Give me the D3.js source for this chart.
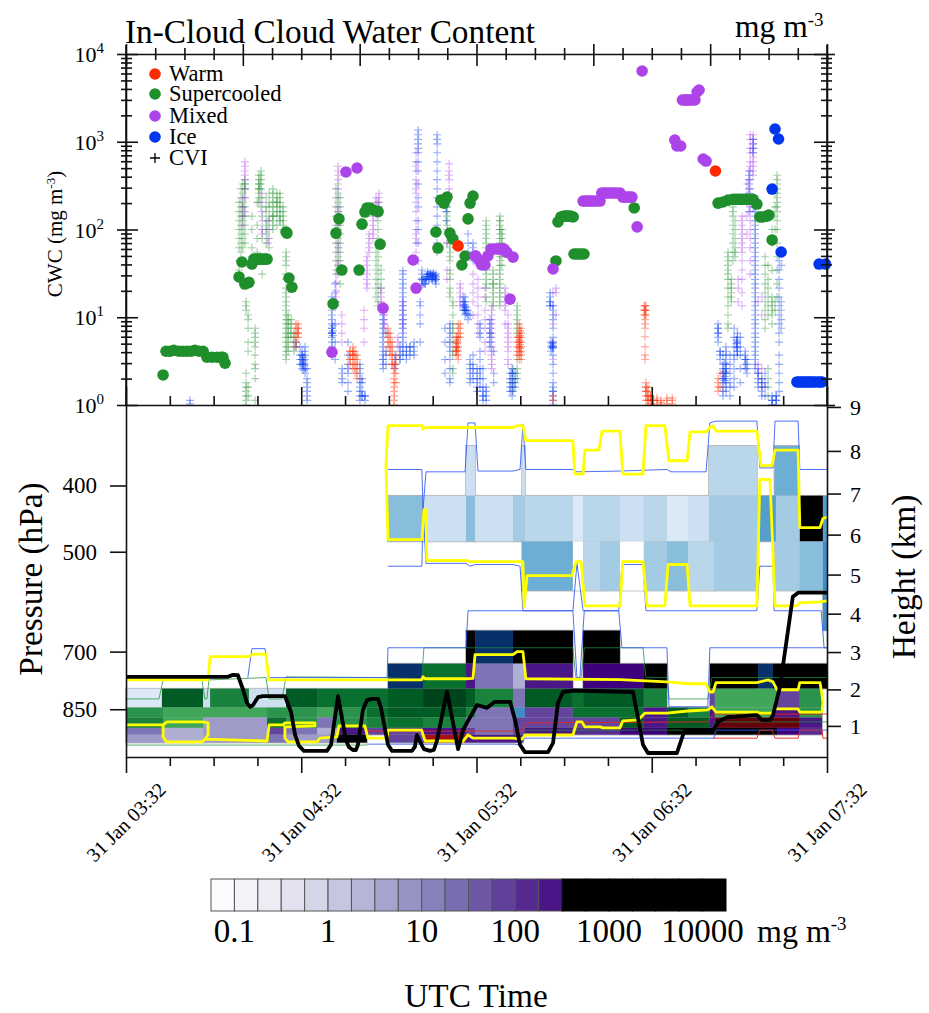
<!DOCTYPE html>
<html>
<head>
<title>In-Cloud Cloud Water Content</title>
<meta charset="utf-8">
<script src="https://cdnjs.cloudflare.com/ajax/libs/d3/7.8.5/d3.min.js"></script>
<style>
  body { margin: 0; background: white; }
  text { font-family: "Liberation Serif", serif; fill: black; }
  .axis path, .axis line { stroke: #111; stroke-width: 1.6; }
</style>
</head>
<body>
<div id="chart"></div>
<script>
// time is minutes after 31 Jan 03:32 UTC, cwc is mg m-3
var warmTime = [113.7, 201.8];
var warmCwc = [65, 464];
var superTime = [12.7, 13.7, 15.1, 16.4, 18.1, 19.5, 20.9, 22.3, 23.6, 25, 26.4, 27.7, 29.4, 31.2, 32.5, 33.2, 33.9, 38.7, 39.7, 40.7, 42.1, 43.1, 43.8, 45.2, 46.6, 48.3, 54.8, 55.1, 55.8, 56.8, 70.9, 71.9, 72.9, 73.9, 79.8, 80.8, 81.8, 82.5, 83.5, 84.6, 86.3, 87, 106.1, 106.8, 107.8, 108.9, 109.9, 110.9, 111.9, 115, 116.1, 117.1, 117.8, 118.8, 147.2, 147.9, 148.9, 150.3, 151.7, 153.1, 153.4, 155.1, 156.8, 174, 202.7, 204.4, 206.1, 207.8, 209.6, 211.3, 213, 214.7, 216, 217, 218, 219.4, 220.1, 221.2,
  44.5, 45.9, 47.4, 149.6, 151, 152.4, 154.2, 155.9, 208.7, 210.4, 212.1, 213.9];
var superCwc = [2.2, 4.1, 4.1, 4.2, 4.1, 4.1, 4.1, 4.1, 4.2, 4.1, 4.1, 3.5, 3.5, 3.5, 3.5, 3.5, 3.0, 28.8, 42.6, 23.9, 25, 40.4, 46, 46, 46, 46, 93.7, 91, 28, 22, 14.2, 91, 132, 34.5, 34.5, 115, 158, 176, 176, 167, 160, 68, 93.7, 61.5, 217, 200, 234, 91, 78, 39.4, 49.9, 132, 200, 241, 43.8, 122, 139, 142, 142, 139, 52.6, 52.6, 52.6, 176, 200, 206, 216, 221, 221, 221, 221, 221, 195, 139, 139, 142, 146, 76,
  46, 46, 46, 141, 142, 141, 52.6, 52.6, 221, 221, 221, 221];
var mixedTime = [70.5, 75.3, 79.1, 88, 98.3, 99.3, 119.5, 119.8, 120.8, 121.8, 122.9, 123.9, 125, 127, 128.4, 129.4, 130.4, 131.5, 132.5, 146.2, 176.7, 156.5, 158.2, 159.9, 162.3, 162.9, 164.6, 166.3, 168, 169.1, 170.1, 171.8, 173.2, 175, 187.9, 188.6, 189.9, 191.1, 192.1, 193.1, 194.8, 195.5, 196.2, 197.6, 198.6,
  157.3, 159, 161, 163.7, 165.4, 167.2, 171, 172.5, 190.5, 191.6, 192.6, 194, 126, 127.7, 128.9];
var mixedCwc = [4, 452, 502, 12.7, 44.9, 21.5, 49.9, 49.9, 44.9, 39.4, 39.4, 49.9, 60, 60, 60, 60, 55, 16.1, 48.5, 35.5, 6400, 211, 211, 211, 211, 261, 261, 261, 261, 261, 234, 234, 234, 107, 1047, 895, 895, 2990, 2990, 2990, 2990, 3690, 3890, 636, 603,
  211, 211, 211, 261, 261, 261, 234, 234, 2990, 2990, 2990, 2990, 60, 60, 60];
var iceTime = [222.2, 223.4, 221.2, 224.3, 237.3, 239.5, 229.7, 231.1, 232.5, 233.8, 235.2, 236.9, 238.3, 230.4, 231.8, 233.2, 234.5, 235.9, 237.6];
var iceCwc = [1397, 1075, 289, 55.4, 40.4, 40.4, 1.83, 1.83, 1.83, 1.83, 1.83, 1.83, 1.83, 1.83, 1.83, 1.83, 1.83, 1.83, 1.83];

// CVI crosses, each strand is [time, [cwc values]]
var cviSuper = [
  [38.7, [27, 31, 34.5, 44, 62, 79, 100, 126, 160, 204]],
  [39.4, [55, 70, 89, 112, 142, 181, 230, 290]],
  [40, [44, 62, 79, 100, 126, 142, 160, 181, 204, 259, 330]],
  [40.7, [70, 89, 112, 142, 181, 230, 290, 330, 370, 330, 290]],
  [41.1, [15, 13.5, 12, 1.13, 1.27, 1.43, 1.6, 1.8, 1, 2.3]],
  [41.8, [10.6, 9.4, 7.5, 5.2, 4.1, 1.27, 1.6]],
  [43.1, [49, 62, 100, 142]],
  [44.2, [7.5, 6.6, 5.9, 5.2, 4.6, 3.7, 2.9, 2.6, 2, 1.13]],
  [44.9, [55, 79, 112, 204]],
  [45.5, [290, 330, 370, 415, 330, 290, 259, 230, 204]],
  [46.2, [370, 415, 465, 330, 290, 230, 181]],
  [46.6, [44, 31, 79, 142, 100]],
  [48, [49, 70, 89, 100, 112, 126, 181, 230, 160]],
  [49, [62, 79, 100, 126, 204, 142, 181, 259]],
  [50.3, [112, 126, 142, 160, 181, 204, 230, 290, 259, 142, 100]],
  [51.7, [112, 142, 160, 181, 204, 230, 259, 204]],
  [52.7, [181, 160, 142, 126, 204, 230, 259, 126]],
  [53.8, [100, 112, 126, 142, 181, 160]],
  [54.8, [55, 49, 44, 39, 31, 27, 21.5, 19, 17, 15, 13.5, 12, 10.6, 9.4, 8.4, 7.5, 6.6, 5.9, 5.2, 4.6, 4.1, 3.7, 3.3]],
  [55.5, [10.6, 9.4, 8.4, 7.5, 6.6, 5.9, 5.2, 4.6, 4.1]],
  [56.5, [9.4, 8.4, 7.5, 6.6, 5.9]],
  [57.5, [6.6, 5.9, 5.2, 4.6, 4.1]],
  [71.9, [34.5, 44, 55, 70, 89, 112, 142, 181, 230, 290]],
  [72.6, [31, 39, 49, 62, 79, 100, 126, 160, 204, 259, 330]],
  [73.3, [24, 34.5, 44, 55, 70, 89, 112, 142, 181, 230]],
  [85.6, [17, 21.5, 27, 34.5, 44, 55]],
  [86.3, [13.5, 15, 19, 24, 31, 39, 49, 62, 79, 100, 126, 160, 181, 204]],
  [87.3, [21.5, 27, 34.5]],
  [109.9, [112, 126, 142, 160, 181, 204, 230, 70, 89]],
  [110.9, [44, 49, 55, 62, 70, 79, 89, 31, 34.5, 27, 21.5, 19, 17]],
  [111.9, [15, 13.5, 10.6, 7.5, 5.2, 3.7, 2.6, 2.3, 4.1, 6.6, 8.4]],
  [123.3, [126, 112, 100, 89, 79, 70, 62, 55, 49, 44, 39, 34.5, 31, 27, 24, 21.5, 17, 15]],
  [125.7, [31, 27, 24, 21.5, 19, 17, 15, 13.5, 34.5, 24]],
  [128, [142, 126, 112, 100, 89, 79, 70, 62, 55, 49, 44, 39, 34.5, 31, 27, 24, 21.5, 19, 17, 15, 13.5, 126, 100]],
  [128.7, [100, 89, 79, 70, 62, 55, 49, 39]],
  [132.5, [2.3, 2, 1.8, 1.6, 1.43, 2.6]],
  [133.9, [13.5, 12, 10.6, 9.4, 8.4, 7.5, 6.6, 3.3, 2.6, 2.3, 2]],
  [206.1, [55, 44, 34.5, 27, 21.5, 17, 13.5, 10.6, 8.4, 7.5, 31, 39, 49]],
  [207.2, [24, 27, 21.5, 19, 17, 15]],
  [207.8, [181, 160, 142, 112, 89, 70, 55, 44]],
  [208.5, [126, 100, 79, 62, 55, 49]],
  [218.8, [49, 39, 31, 24, 19, 15, 12, 9.4, 7.5]],
  [219.8, [39, 27, 21.5, 17, 13.5, 10.6, 2.6, 2, 1.6, 1.27]],
  [221.2, [17, 15, 13.5, 12, 10.6, 8.4, 34, 70, 100]],
  [222.2, [100, 142, 181, 259, 12, 15]],
  [222.9, [415, 370, 330, 290, 259, 230, 204, 181, 160, 126, 100, 70, 49, 34.5, 24, 17]]
];
var cviMixed = [
  [40, [230, 181, 142, 112]],
  [40.7, [590, 525, 465, 415, 370, 290, 230, 160]],
  [46.6, [259, 204, 160, 126, 100, 89]],
  [48.6, [126, 100, 79, 70]],
  [71.9, [20, 25, 31, 17, 13.5, 15]],
  [72.6, [525, 465, 415, 370, 290, 230, 181, 160, 142, 112, 89, 70, 62, 55, 44, 39, 34.5]],
  [73.9, [10.6, 8.4, 6.6, 5.2]],
  [81.5, [9.4, 12, 7.5, 5.2]],
  [82.5, [49, 44, 39, 34.5, 31, 27, 24, 21.5]],
  [83.2, [89, 79, 70, 62, 55]],
  [84.6, [142, 126, 112, 100, 89, 79]],
  [85.6, [230, 204, 181, 160, 142]],
  [86.6, [259, 230, 204, 181]],
  [87.3, [21.5, 19, 17, 15, 13.5, 12]],
  [88.4, [12, 10.6, 9.4, 8.4, 7.5]],
  [93.1, [4.6, 5.9, 5.2]],
  [94.8, [15, 13.5, 10.6, 12, 9.4, 8.4, 7.5]],
  [99.3, [750, 590, 525, 465, 370, 330, 290, 259, 204, 160, 126, 100, 89, 79, 70, 55]],
  [109.9, [100, 70, 34.5, 27]],
  [110.6, [560, 465, 415, 370, 290, 259]],
  [114.4, [24, 19, 17, 15, 21.5, 13.5]],
  [118.8, [31, 24, 19, 15, 10.6]],
  [120.5, [39, 27, 21.5, 17, 13.5, 10.6, 8.4, 6.6]],
  [122.9, [21.5, 17, 12, 9.4, 7.5, 5.2, 4.1]],
  [125.2, [13.5, 12, 10.6, 9.4, 8.4, 7.5, 6.6, 5.9, 5.2, 4.6, 4.1, 3.7, 3.3, 2.9, 2.6]],
  [129.8, [21.5, 19, 17, 15, 13.5, 12, 8.4]],
  [130.8, [8.4, 7.5, 6.6, 5.9, 5.2, 4.6, 4.1, 3.3, 2.9, 10.6]],
  [146.2, [19, 13.5, 8.4, 5.2, 3.3]],
  [147.2, [21.5, 19, 10.6]],
  [209.6, [27, 21.5, 15]],
  [210.9, [142, 126, 112, 100, 89, 79, 70, 62, 55, 44, 34.5, 27, 19, 13.5]],
  [212.6, [250, 330, 200, 142, 89]],
  [213.7, [1200, 1065, 840, 750, 590, 525, 465, 370, 290, 230, 181, 160, 126, 100, 79, 62, 44, 31]],
  [214.7, [1200, 1065, 945, 840, 750, 665, 590, 525, 465, 415]],
  [216.4, [15, 2.6, 2.9, 2.3]],
  [217.7, [17, 10.6, 2.6, 2, 1.6]]
];
var cviIce = [
  [21.9, [1.13, 1.03]],
  [58.2, [4.6, 5.2]],
  [59.6, [4.6, 3.7, 3.3, 2.9]],
  [60.3, [3.7, 3.3, 2.9, 2.6, 4.1, 3.7, 3.3, 2.9]],
  [60.8, [3.5, 3, 2.8, 2.5, 3.2]],
  [61.3, [4.6, 4.1, 3.7, 3.3, 2.9, 2.6, 2.3]],
  [62, [2.6, 2, 1.8, 1.6, 1.43, 1.27, 1.13]],
  [70.5, [17, 15, 13.5, 12, 10.6, 9.4, 8.4, 7.5, 6.6, 5.9, 5.2, 4.6, 4.1, 3.7, 7.5, 6.6, 6.6]],
  [70.8, [8, 7, 6.2]],
  [71.6, [24, 19, 15, 8.4, 5.2, 3.3]],
  [74, [2.3, 2.6, 2, 1.8]],
  [76, [5.2, 3.7, 2.9, 2.6, 2.3, 1.8, 1.43]],
  [80.1, [2.9, 2.6, 2.3, 2, 1.8, 1.6, 1.43, 1.27, 1.13]],
  [80.8, [2, 1.8, 1.43, 1.27, 1.27]],
  [81.8, [1.13, 1.27, 1.27]],
  [88, [12, 10.6, 9.4, 8.4, 7.5, 6.6, 5.9, 5.2, 4.6, 4.1, 3.7, 3.3, 3.3, 2.9, 2.6]],
  [89, [6.6, 4.1, 2.9, 3.7]],
  [92.1, [2.9, 2.6, 3.3, 3.7]],
  [93.8, [4.6, 4.1, 3.7, 3.3, 3.3]],
  [94.8, [34, 31, 27, 24, 21.5, 19, 17, 15, 13.5, 12, 10.6, 9.4, 8.4, 7.5, 6.6, 5.9, 5.2, 4.6, 4.1, 3.7]],
  [96, [4.6, 4.1, 3.7, 3.3]],
  [97.2, [4.6, 4.1, 3.7, 4.6]],
  [98.6, [5.2, 4.6, 4.1, 3.7]],
  [100, [1360, 1200, 1065, 945, 840, 750, 590, 465, 330, 230, 181, 126, 100, 70, 44]],
  [100.7, [15, 13.5, 10.6, 8.4, 5.2]],
  [101.3, [23, 27, 31, 34.5, 27]],
  [101.7, [24, 26, 28]],
  [102.4, [24, 27, 27, 24]],
  [102.9, [27, 29]],
  [103.2, [29, 31, 33]],
  [103.7, [27, 31, 31, 27]],
  [104.2, [30, 32, 28]],
  [104.8, [27, 31, 31, 29, 27]],
  [105.3, [30, 28, 32]],
  [105.8, [26, 28, 30]],
  [106.1, [29, 27, 31, 27, 24]],
  [106.5, [1200, 1065, 945, 750, 590, 465, 370, 290, 230, 181, 142, 112, 89, 70, 55]],
  [109.2, [7.5, 5.2, 3.3, 2.3]],
  [109.6, [230, 204, 181, 160, 126]],
  [110.9, [8.4, 7.5, 6.6, 5.9, 5.2, 4.6, 4.1, 3.3, 2.6, 2, 1.8]],
  [115.4, [12, 13.5, 15, 17]],
  [115.8, [14, 13, 12, 15]],
  [116.1, [17, 15, 13.5, 12, 12, 10.6]],
  [116.5, [13, 12, 11]],
  [117.1, [89, 70, 55, 10.6, 12, 9.4]],
  [117.8, [10.6, 3.3, 2.9, 2.6, 2.3, 2, 1.8]],
  [118.8, [70, 62, 55, 49, 44, 3.7, 2.9, 2.3, 2, 2.6]],
  [120.2, [1.6, 1.43, 1.8, 2, 2.3, 2.6]],
  [121.2, [8.4, 7.5, 6.6, 5.9, 4.1, 3.3, 2.6, 2.3, 2, 1.6]],
  [122.2, [2.6, 2, 1.6, 1.43, 1.27, 1.27, 1.13]],
  [123.3, [1.6, 1.43, 1.27, 1.13]],
  [124.6, [9.4, 8.4, 7.5, 6.6, 6.6, 5.9, 5.2, 4.6]],
  [125.9, [4.1, 2.3, 1.8]],
  [131.5, [2.3, 2, 1.8, 1.6, 1.43]],
  [132.2, [2.6, 2.3, 2.3, 2, 1.8, 1.6, 1.43, 1.27]],
  [133.2, [2.3, 2, 1.8, 1.6]],
  [145.2, [19, 17, 15, 15, 13.5, 13.5]],
  [145.5, [5.2, 4.6, 4.1]],
  [146, [5, 4.8, 4.4]],
  [146.2, [13.5, 12, 10.6, 9.4, 7.5, 5.9, 5.2, 4.6, 4.6, 4.6, 3.7, 2.9, 2.3, 1.8, 1.6, 1.43, 1.43, 1.27, 1.13, 1]],
  [202.7, [8.4, 7.5, 6.6, 5.9, 7.5, 6.6, 5.2]],
  [203.4, [4.1, 3.7, 4.1, 3.3]],
  [204.4, [3.7, 2.9, 2.6, 2.3, 2, 1.8, 1.6, 1.43, 1.27, 2, 2.3]],
  [205, [3, 2.4, 2.1, 1.9]],
  [205.4, [4.6, 4.1, 3.7, 3.3, 2.9, 2.6, 2.3, 2, 1.8, 1.6, 1.43, 2.6, 2.3]],
  [206.8, [3.7, 2.9, 2.3, 1.8, 1.6, 1.27]],
  [208.2, [7.5, 5.9, 4.6, 3.7, 3.3, 2.6, 2, 1.6]],
  [209, [5.5, 5, 4.5]],
  [209.3, [6.6, 5.9, 5.2, 4.6, 4.1, 4.1, 3.7, 5.2]],
  [210.3, [5.9, 4.6, 3.7, 2.6, 1.8]],
  [212, [4.1, 3.7, 3.3, 3.3, 2.9, 2.6]],
  [212.6, [3.3, 2.9, 2.6, 2.3]],
  [213.3, [465, 415, 370, 330, 290, 259, 230, 204, 160]],
  [214.7, [1065, 945, 840, 750, 204, 181]],
  [215.4, [181, 160, 142, 126, 112, 100, 89, 79, 70, 62, 55, 49, 44, 39, 34.5, 31, 27, 24, 21.5, 19, 17, 15, 13.5, 12, 10.6, 9.4, 8.4, 7.5, 6.6, 5.9, 5.2, 4.6, 4.1, 3.7, 3.3, 2.9, 2.6]],
  [216.4, [2.3, 2, 1.8, 1.6, 2.3]],
  [217.7, [1.8, 1.6, 1.43, 1.27, 2]],
  [218.8, [2.3, 1.6, 1.27, 1.8]],
  [221.2, [1.27, 1.13, 1, 1.13, 1]],
  [222.6, [1.27, 1.13, 1, 1.27, 1.13]],
  [223.6, [44, 34.5, 27, 21.5, 17, 13.5, 10.6, 8.4, 6.6, 5.2, 3.7, 2.9, 2.3, 1.8, 1.43]],
  [224.3, [55, 39, 15, 12, 9.4, 7.5]]
];
var cviWarm = [
  [58.2, [8.4, 7.5, 6.6, 5.9, 5.2, 4.6]],
  [58.9, [8.4, 7.5, 6.6, 5.9, 7.5, 6.6]],
  [76.7, [4.1, 3.7, 3.3, 2.9, 4.1, 3.3]],
  [77.7, [4.6, 4.1, 3.7, 3.3, 2.9, 2.6, 4.1, 3.7]],
  [78.4, [4.1, 3.7, 3.3, 2.9, 2.6, 2.3]],
  [79.1, [3.7, 3.3, 2.9, 2.6, 2.3, 2]],
  [89.7, [7.5, 6.6, 5.9, 5.2, 4.6]],
  [90.4, [6.6, 5.9, 5.2, 4.6, 4.1, 3.7]],
  [91.1, [5.2, 4.6, 4.1, 3.7, 3.3, 2.9, 2.9]],
  [91.8, [2.9, 2.6, 2.3, 2, 1.8, 1.6, 1.43, 1.27, 1.13, 1]],
  [92.4, [3.7, 3.3, 2.9, 2.3, 1.8]],
  [113, [5.9, 5.2, 4.6, 4.1, 4.1, 3.7, 4.6]],
  [113.3, [6, 5.5, 5, 4.5, 4.2]],
  [113.7, [8.4, 7.5, 6.6, 5.9, 5.2, 4.6, 4.1, 3.7, 3.3]],
  [114.4, [8.4, 7.5, 6.6, 5.9]],
  [133.9, [5.9, 5.2, 4.6, 4.1, 3.7]],
  [134.6, [8.4, 7.5, 6.6, 5.9, 5.2, 4.6, 4.1, 3.7, 3.3, 4.6, 5.2, 5.9]],
  [134.9, [7, 6.2, 5.5, 4.9, 4.4, 4]],
  [135.3, [7.5, 6.6, 5.9, 5.2, 4.6, 4.1, 3.7, 3.3]],
  [146.2, [1.13, 1.27]],
  [177.4, [13.5, 12, 10.6]],
  [177.7, [13.5, 12, 10.6, 12, 9.4, 8.4, 7.5, 6, 4.6, 3.7, 3.3]],
  [178, [13.5, 12, 10.6, 1.8, 1.6, 1.43, 1.6, 1.27, 1.13, 1.43]],
  [178.7, [1.6, 1.43, 1.27, 1.13, 1, 1.27, 1.13]],
  [179.5, [1.27, 1.13, 1.27, 1.03]],
  [180.5, [1.13, 1.13, 1, 1.13]],
  [181.8, [1.2, 1.13, 1.03]],
  [183.2, [1.13, 1, 1.07]],
  [185.2, [1.2, 1.13, 1.03]],
  [187, [1.2, 1.13, 1.03]],
  [202.7, [2, 1.8, 1.6, 1.43]],
  [203.4, [2.3, 1.6]]
];

// pressure bins of the curtain plot, hPa
var pressureEdges = [350, 414, 483, 570, 652, 729, 793, 845, 874, 905, 926, 951];
// each cell is [start, end, phase, cwc]; 0.01 is a cloudy cell below the colour range
var row0 = [[116.4, 119.5, "ice", 0.42], [135.6, 136.6, "ice", 0.42], [199.6, 216, "ice", 0.75], [222, 230.4, "ice", 4.2]];
var row1 = [[89.7, 101.7, "ice", 2.4], [101.7, 116.4, "ice", 0.42], [116.4, 119.5, "ice", 2.4], [119.5, 132.5, "ice", 0.42], [132.5, 136.6, "ice", 1.3], [136.6, 153, "ice", 0.75], [153, 156.5, "ice", 0.24], [156.5, 169.1, "ice", 0.75], [169.1, 177.3, "ice", 0.42], [177.3, 185.2, "ice", 0.75], [185.2, 192.4, "ice", 0.24], [192.4, 199.6, "ice", 0.42], [199.6, 217, "ice", 1.3], [217, 222.5, "ice", 7.5], [222.5, 230.7, "ice", 1.3], [230.7, 238.6, "ice", 500], [238.6, 240, "ice", 7.5]];
var row2 = [[135.6, 153, "ice", 4.2], [153, 156.5, "ice", 0.01], [156.5, 162.3, "ice", 0.75], [162.3, 169.1, "ice", 1.3], [169.1, 177.3, "ice", 0.01], [177.3, 185.2, "ice", 1.3], [185.2, 192.4, "ice", 2.4], [192.4, 201.3, "ice", 0.75], [201.3, 216, "ice", 1.3], [222.2, 230.7, "ice", 1.3], [230.7, 238.6, "ice", 2.4], [238.6, 240, "ice", 13]];
var row3 = [[238.6, 240, "ice", 13]];
var row4 = [[116.4, 119.5, "ice", 500], [119.5, 132.5, "ice", 237], [132.5, 153, "ice", 500], [156.5, 169.1, "ice", 500]];
var row5 = [[89.7, 101.7, "ice", 237], [101.7, 116.4, "sc", 75], [116.4, 119.5, "mix", 133], [119.5, 132.5, "mix", 13], [132.5, 136.6, "mix", 2.4], [136.6, 153, "mix", 133], [156.5, 177.3, "mix", 237], [177.3, 185.2, "mix", 500], [199.9, 216.4, "mix", 500], [216.4, 221.5, "ice", 237], [221.5, 240, "mix", 500]];
var row6 = [[0, 12.3, "ice", 0.24], [12.3, 26.4, "sc", 133], [26.4, 28.8, "ice", 0.42], [28.8, 42.1, "sc", 42], [42.1, 48.3, "ice", 0.42], [48.3, 54.8, "ice", 0.42], [54.8, 65.4, "sc", 133], [65.4, 89.7, "sc", 75], [89.7, 101.7, "sc", 133], [101.7, 116.4, "sc", 237], [116.4, 119.5, "sc", 133], [119.5, 132.5, "sc", 42], [132.5, 136.6, "mix", 13], [136.6, 153, "sc", 133], [153, 156.5, "sc", 75], [156.5, 177.3, "sc", 133], [177.3, 185.2, "sc", 42], [199.9, 201.6, "mix", 42], [201.6, 222.9, "sc", 13], [222.9, 230.7, "mix", 42], [230.7, 238.3, "sc", 24]];
var row7 = [[0, 12.7, "sc", 24], [12.7, 42.1, "sc", 13], [42.1, 48.3, "sc", 13], [48.3, 65.4, "sc", 24], [65.4, 70.9, "sc", 13], [70.9, 82.5, "sc", 24], [82.5, 89.7, "sc", 75], [89.7, 116.4, "sc", 133], [116.4, 119.5, "sc", 42], [119.5, 132.5, "mix", 13], [132.5, 136.6, "ice", 13], [136.6, 153, "mix", 42], [153, 177.3, "sc", 75], [177.3, 185.2, "mix", 133], [185.2, 192.4, "sc", 133], [192.4, 199.9, "sc", 42], [199.9, 201.6, "mix", 133], [201.6, 221.5, "sc", 13], [221.5, 230.7, "mix", 133], [230.7, 238.3, "sc", 24]];
var row8 = [[0, 12.7, "sc", 42], [12.7, 26.4, "sc", 13], [26.4, 48.3, "mix", 4.2], [48.3, 54.8, "sc", 75], [54.8, 65.4, "sc", 24], [65.4, 70.9, "mix", 13], [70.9, 82.5, "sc", 24], [82.5, 89.7, "sc", 42], [89.7, 101.7, "sc", 75], [101.7, 116.4, "sc", 42], [116.4, 132.5, "mix", 13], [132.5, 153, "mix", 42], [153, 169.1, "mix", 42], [169.1, 177.3, "sc", 133], [177.3, 185.2, "mix", 133], [185.2, 199.9, "sc", 133], [199.9, 201.6, "mix", 133], [201.6, 230.7, "warm", 237], [230.7, 238.3, "mix", 133]];
var row9 = [[0, 12.7, "mix", 13], [12.7, 26.4, "mix", 2.4], [26.4, 48.3, "mix", 4.2], [48.3, 54.8, "mix", 42], [54.8, 65.4, "mix", 13], [65.4, 72.2, "mix", 2.4], [72.2, 82.5, "mix", 133], [82.5, 89.7, "mix", 42], [89.7, 101.7, "mix", 42], [101.7, 116.4, "mix", 133], [116.4, 119.5, "mix", 42], [119.5, 132.5, "mix", 13], [132.5, 136.6, "mix", 42], [136.6, 153, "mix", 133], [153, 169.1, "mix", 75], [169.1, 185.2, "mix", 237], [185.2, 201.6, "mix", 500], [201.6, 222.9, "mix", 500], [222.9, 230.7, "mix", 237], [230.7, 238.3, "mix", 75]];
var row10 = [[0, 12.7, "mix", 4.2], [12.7, 26.4, "mix", 2.4], [26.4, 48.3, "mix", 4.2], [48.3, 54.8, "mix", 13], [54.8, 65.4, "mix", 4.2], [65.4, 72.2, "mix", 4.2], [72.2, 82.5, "mix", 500], [89.7, 101.7, "mix", 42], [101.7, 116.4, "warm", 75], [116.4, 136, "mix", 133]];
var rows = [row0, row1, row2, row3, row4, row5, row6, row7, row8, row9, row10];

// contour lines of the curtain plot, [time, hPa]
var blueUpperTop = [[89.7, 379], [101.3, 379], [101.7, 434], [102.7, 382], [116.1, 382], [117.1, 324], [119.5, 324], [120.5, 381], [132.5, 381], [134.9, 379], [135.9, 325], [136.9, 379], [153, 379], [154.4, 382], [169, 381], [185.2, 379], [186.6, 382], [198.6, 382], [199.9, 324], [202, 322], [216, 322], [217, 377], [221.5, 377], [222.2, 322], [230.1, 322], [230.7, 379], [240, 379]];
var blueUpperBase = [[89.7, 525], [101.3, 525], [101.7, 434], [102.7, 520], [116.4, 520], [117.8, 525], [119.5, 522], [132.5, 522], [134.9, 525], [135.9, 610], [153, 610], [154.4, 520], [156.5, 610], [168.7, 610], [169.8, 522], [177, 522], [178, 610], [216, 610], [217, 525], [221.5, 525], [221.9, 610], [238, 610], [239, 691], [240, 691]];
var blueLower = [[41.7, 764], [43.1, 693], [47.6, 693], [49, 764], [89.4, 764], [89.7, 691], [116.4, 691], [117.1, 610], [153, 610], [154.4, 764], [155.4, 764], [156.9, 610], [168.7, 610], [169.8, 691], [185.2, 691], [185.9, 843], [199.2, 843], [199.9, 691], [240, 691]];
var blueBase = [[82.5, 956], [133, 956], [134.9, 959], [136.6, 937], [201.3, 937], [202, 912], [240, 912]];
var greenTop = [[0, 821], [11.3, 821], [12.7, 770], [26, 770], [27, 821], [27.7, 821], [28.4, 770], [47.9, 764], [49, 821], [53.4, 821], [54.8, 762], [89.7, 764], [101.2, 770], [102, 691], [153, 691], [154, 764], [155.8, 764], [156.9, 691], [177, 691], [178, 764], [185.2, 764], [185.9, 821], [199.2, 821], [200.6, 764], [240, 764]];
var greenBase = [[0, 959], [82.5, 959]];
var greenMid = [[136.6, 912], [199.9, 912], [202, 887], [240, 887]];
var redTop = [[82.5, 915], [135.6, 915], [136.9, 890], [199.2, 887], [201, 864], [240, 864]];
var redBase = [[201, 937], [216, 937], [217, 912], [221.2, 912], [222.2, 937], [230.1, 937], [230.7, 912], [238.3, 912], [238.6, 937], [240, 937]];
var yellowUpperTop = [[89.7, 480], [89, 374], [89.7, 327], [101.3, 327], [101.7, 331], [102.4, 329], [117.8, 329], [132.5, 329], [133.9, 327], [135.9, 327], [136.9, 344], [153, 344], [153.7, 385], [156.5, 385], [157.1, 355], [161.9, 355], [163, 333], [169.1, 333], [170.1, 385], [177, 385], [178, 327], [184.5, 327], [185.9, 368], [192.1, 368], [193.1, 334], [198.6, 334], [199.9, 329], [201, 327], [202, 333], [216, 333], [217.4, 374], [221.2, 374], [222.2, 355], [230.1, 355], [230.7, 461], [237.6, 461], [238.6, 447], [240, 445]];
var yellowUpperBase = [[89.7, 480], [101.3, 480], [102, 434], [102.7, 434], [103, 515], [116.4, 515], [117.8, 517], [135.9, 517], [136.3, 602], [137.3, 542], [152.7, 542], [154.1, 517], [155.8, 517], [157.1, 600], [169.1, 600], [170.1, 517], [177, 517], [178.4, 600], [184.5, 600], [185.6, 522], [192.1, 522], [193.1, 600], [216, 600], [217, 392], [220.5, 392], [222.2, 600], [229.7, 600], [230.7, 594], [237.6, 592], [240, 590]];
var yellowLowerTop = [[0, 770], [28.1, 770], [28.8, 712], [42.1, 712], [43.5, 706], [47.9, 706], [48.9, 770], [101.2, 770], [101.7, 762], [102.4, 767], [116.4, 767], [118.8, 766], [119.5, 707], [132.5, 707], [133.9, 700], [135.9, 700], [136.9, 767], [169.1, 769], [185.2, 775], [193.1, 780], [198.6, 780], [199.9, 802], [201, 802], [202, 777], [216, 777], [219.8, 770], [221.5, 775], [222.9, 796], [230.1, 796], [230.7, 777], [237.6, 777], [238.3, 810], [238.6, 832], [238.3, 858]];
var yellowLowerBase = [[0, 896], [12.7, 896], [12.7, 933], [14, 949], [26, 949], [27, 940], [48.3, 946], [49, 896], [53.7, 896], [54.4, 890], [64.7, 890], [64.7, 899], [54.4, 902], [54.4, 937], [55.5, 949], [65.4, 949], [66.4, 937], [72.2, 933], [72.9, 899], [81.8, 899], [82.8, 937], [89.4, 937], [89.7, 912], [101.2, 912], [102.4, 946], [115.4, 946], [117.1, 927], [118.8, 937], [132.5, 937], [135.6, 940], [136.6, 927], [153, 927], [154.4, 887], [156.1, 887], [157.1, 902], [162.3, 902], [163.3, 905], [169.1, 905], [170.1, 884], [175.3, 881], [177.7, 861], [185.2, 861], [192.4, 855], [199.2, 852], [200.6, 843], [202, 858], [216, 858], [217, 861], [221.2, 861], [222.2, 849], [230.1, 849], [230.7, 858], [238.3, 858]];
var yellowLoop = [[12.7, 896], [14, 887], [26.4, 887], [28.1, 890], [28.1, 927], [27, 940]];
var flightPath = [[0, 762], [34.9, 762], [36.6, 757], [38.3, 758], [40.1, 796], [41.4, 832], [42.5, 843], [43.5, 838], [45.2, 816], [46.9, 813], [54.4, 813], [56.5, 858], [57.9, 927], [59.2, 961], [60.9, 978], [68.8, 978], [70.2, 958], [72.6, 813], [75.3, 943], [76.3, 965], [77.7, 975], [78.7, 975], [79.4, 959], [81.1, 852], [82.5, 824], [84.2, 821], [86.3, 821], [87.3, 846], [89.7, 958], [91.1, 978], [97.9, 978], [98.9, 965], [99.6, 927], [100.7, 949], [102, 972], [104.1, 978], [105.4, 975], [106.5, 943], [109.9, 801], [113.7, 972], [115.4, 912], [116.7, 890], [120.2, 838], [123.6, 846], [126.3, 829], [131.5, 829], [133.2, 881], [134.9, 958], [136.6, 982], [144.5, 982], [146.2, 952], [147.9, 832], [149.6, 802], [153, 798], [173.6, 802], [177, 958], [178.7, 985], [188.6, 985], [190.7, 927], [191.4, 912], [201, 912], [202.7, 887], [205.8, 873], [216, 867], [217.7, 881], [220.5, 881], [221.5, 867], [223.9, 788], [228.3, 582], [230.1, 574], [240, 574]];

var timeTicks = [0, 60, 120, 180, 240];
var timeLabels = ["31 Jan 03:32", "31 Jan 04:32", "31 Jan 05:32", "31 Jan 06:32", "31 Jan 07:32"];
var pressureTicks = [400, 500, 700, 850];
var heightTicks = [1, 2, 3, 4, 5, 6, 7, 8, 9];
var heightPressure = [899, 795, 701, 616, 540, 472, 411, 356, 307];
var barLabels = [0.1, 1, 10, 100, 1000, 10000];
var legendNames = ["Warm", "Supercooled", "Mixed", "Ice"];

var phaseColors = {warm: "#ff2a00", sc: "#1f8f2b", mix: "#ad44ea", ice: "#0037ee"};
var ramps = {warm: d3.interpolateReds, sc: d3.interpolateGreens, mix: d3.interpolatePurples, ice: d3.interpolateBlues};

var svg = d3.select("#chart").append("svg")
  .attr("width", 929)
  .attr("height", 1013);

var x = d3.scaleLinear().domain([0, 240]).range([126, 827]);
var yCwc = d3.scaleLog().domain([1, 10000]).range([405, 54]);
var yP = d3.scaleLog().domain([1000, 305]).range([757.5, 405]);
var barX = d3.scaleLog().domain([Math.pow(10, -1.25), Math.pow(10, 4.25)]).range([211, 726]);

function cellColor(phase, v) {
  var idx = Math.floor((Math.log10(v) + 1.25) * 4);
  if (idx < 0) return "white";
  if (idx >= 15) return "black";
  return ramps[phase](idx / 14);
}

// curtain cells, the grey first pass only shows where a cell has no neighbour
var cells = [];
rows.forEach(function(row, i) {
  row.forEach(function(c) {
    cells.push({t0: c[0], t1: c[1], phase: c[2], v: c[3], p0: pressureEdges[i], p1: pressureEdges[i + 1]});
  });
});
var curtain = svg.append("g");
["halo", "fill"].forEach(function(pass) {
  curtain.append("g").selectAll("rect")
    .data(cells)
    .enter()
    .append("rect")
      .attr("x", d => x(d.t0))
      .attr("y", d => yP(d.p0))
      .attr("width", d => x(d.t1) - x(d.t0))
      .attr("height", d => yP(d.p1) - yP(d.p0))
      .attr("fill", d => cellColor(d.phase, d.v))
      .attr("stroke", pass == "halo" ? "#b5b5b5" : "none")
      .attr("stroke-width", 1.6);
});

var line = d3.line().x(d => x(d[0])).y(d => yP(d[1]));
function contour(data, color, width, opacity) {
  svg.append("path")
    .datum(data)
    .attr("d", line)
    .attr("fill", "none")
    .attr("stroke", color)
    .attr("stroke-width", width)
    .attr("stroke-opacity", opacity)
    .attr("stroke-linejoin", "round");
}
contour(greenTop, "#1f8f3c", 1, 0.75);
contour(greenBase, "#1f8f3c", 1, 0.75);
contour(greenMid, "#1f8f3c", 1, 0.75);
contour(blueUpperTop, "#2f58f0", 1, 0.85);
contour(blueUpperBase, "#2f58f0", 1, 0.85);
contour(blueLower, "#2f58f0", 1, 0.85);
contour(blueBase, "#2f58f0", 1, 0.85);
contour(redTop, "#e8261c", 1, 0.9);
contour(redBase, "#e8261c", 1, 0.9);
contour(yellowUpperTop, "#ffff00", 2.8, 1);
contour(yellowUpperBase, "#ffff00", 2.8, 1);
contour(yellowLowerTop, "#ffff00", 2.8, 1);
contour(yellowLowerBase, "#ffff00", 2.8, 1);
contour(yellowLoop, "#ffff00", 2.8, 1);
contour(flightPath, "black", 3.8, 1);

// crosses
svg.append("clipPath").attr("id", "topClip").append("rect")
  .attr("x", 126).attr("y", 54).attr("width", 701).attr("height", 351);
var crossLayer = svg.append("g").attr("clip-path", "url(#topClip)");
function crosses(strands, color) {
  var pts = [];
  strands.forEach(function(s) {
    s[1].forEach(function(v) { pts.push([s[0], v]); });
  });
  crossLayer.append("g").selectAll("path")
    .data(pts)
    .enter()
    .append("path")
      .attr("d", "M-4,0H4M0,-4V4")
      .attr("transform", d => "translate(" + x(d[0]) + "," + yCwc(d[1]) + ")")
      .attr("stroke", color)
      .attr("stroke-opacity", 0.42)
      .attr("stroke-width", 1.1)
      .attr("fill", "none");
}
crosses(cviSuper, phaseColors.sc);
crosses(cviMixed, phaseColors.mix);
crosses(cviIce, phaseColors.ice);
crosses(cviWarm, phaseColors.warm);

// cloud probe points
function dots(times, values, color) {
  svg.append("g").selectAll("circle")
    .data(times)
    .enter()
    .append("circle")
      .attr("cx", d => x(d))
      .attr("cy", (d, i) => yCwc(values[i]))
      .attr("r", 5.8)
      .attr("fill", color);
}
dots(superTime, superCwc, phaseColors.sc);
dots(mixedTime, mixedCwc, phaseColors.mix);
dots(warmTime, warmCwc, phaseColors.warm);
dots(iceTime, iceCwc, phaseColors.ice);

// axes, ticks cross the frame so the lines are reset after the call
function stretch(g, name, a, b) {
  g.selectAll(".tick line").attr(name + "1", a).attr(name + "2", b);
  g.selectAll(".tick text").remove();
}
function frame(gen, tx, ty, values, name, a, b) {
  var g = svg.append("g").attr("class", "axis")
    .attr("transform", "translate(" + tx + "," + ty + ")")
    .call(gen.tickValues(values).tickSizeOuter(0));
  stretch(g, name, a, b);
  return g;
}
var top10 = d3.range(10, 241, 10).filter(d => d % 40 != 0);
var top40 = [0, 40, 80, 120, 160, 200, 240];
frame(d3.axisTop(x), 0, 54, top10, "y", -6, 6);
frame(d3.axisTop(x), 0, 54, top40, "y", -10, 12).select(".domain").remove();
var mid15 = d3.range(15, 240, 15).filter(d => d % 60 != 0);
frame(d3.axisBottom(x), 0, 405, mid15, "y", -9, 0);
frame(d3.axisBottom(x), 0, 405, timeTicks, "y", -18, 0).select(".domain").remove();
frame(d3.axisBottom(x), 0, 757, mid15, "y", 0, 9);
frame(d3.axisBottom(x), 0, 757, timeTicks, "y", 0, 16).select(".domain").remove();

var decades = [1, 10, 100, 1000, 10000];
var minors = [];
decades.slice(0, 4).forEach(function(d) {
  [2, 3, 4, 5, 6, 7, 8, 9].forEach(function(m) { minors.push(d * m); });
});
frame(d3.axisLeft(yCwc), 126, 0, minors, "x", -5, 6);
frame(d3.axisLeft(yCwc), 126, 0, decades, "x", -9, 12).select(".domain").remove();
frame(d3.axisRight(yCwc), 827, 0, minors, "x", -6, 5);
frame(d3.axisRight(yCwc), 827, 0, decades, "x", -13, 8).select(".domain").remove();
frame(d3.axisLeft(yP), 126, 0, pressureTicks, "x", -16, 0);
frame(d3.axisRight(yP), 827, 0, heightPressure, "x", 0, 14);

svg.append("line").attr("x1", 126).attr("x2", 126).attr("y1", 45).attr("y2", 405).attr("stroke", "#111").attr("stroke-width", 1.6);
svg.append("line").attr("x1", 827).attr("x2", 827).attr("y1", 45).attr("y2", 405).attr("stroke", "#111").attr("stroke-width", 1.6);

// tick labels
decades.forEach(function(d, i) {
  var t = svg.append("text")
    .attr("x", 104)
    .attr("y", yCwc(d) + 8)
    .attr("text-anchor", "end")
    .style("font-size", "22px")
    .text("10");
  t.append("tspan").attr("dy", -9).style("font-size", "15px").text(i);
});
svg.selectAll(".pLabel")
  .data(pressureTicks)
  .enter()
  .append("text")
    .attr("x", 97)
    .attr("y", d => yP(d) + 8)
    .attr("text-anchor", "end")
    .style("font-size", "23px")
    .text(d => d);
svg.selectAll(".hLabel")
  .data(heightTicks)
  .enter()
  .append("text")
    .attr("x", 850)
    .attr("y", (d, i) => yP(heightPressure[i]) + 8)
    .style("font-size", "22px")
    .text(d => d);
svg.selectAll(".tLabel")
  .data(timeTicks)
  .enter()
  .append("text")
    .attr("transform", d => "translate(" + x(d) + ",822) rotate(-45)")
    .attr("text-anchor", "middle")
    .attr("dy", "0.35em")
    .style("font-size", "20px")
    .text((d, i) => timeLabels[i]);

// titles
svg.append("text").attr("x", 125).attr("y", 43).style("font-size", "33.3px").text("In-Cloud Cloud Water Content");
var unit = svg.append("text").attr("x", 735).attr("y", 37).style("font-size", "31.5px").text("mg m");
unit.append("tspan").attr("dy", -11).style("font-size", "19px").text("-3");
var cwcTitle = svg.append("text").attr("transform", "translate(62,234) rotate(-90)").attr("text-anchor", "middle").style("font-size", "21px").text("CWC (mg m");
cwcTitle.append("tspan").attr("dy", -7).style("font-size", "13px").text("-3");
cwcTitle.append("tspan").attr("dy", 7).text(")");
svg.append("text").attr("transform", "translate(42,579) rotate(-90)").attr("text-anchor", "middle").style("font-size", "33.3px").text("Pressure (hPa)");
svg.append("text").attr("transform", "translate(915,577) rotate(-90)").attr("text-anchor", "middle").style("font-size", "33.5px").text("Height (km)");
svg.append("text").attr("x", 476).attr("y", 1007).attr("text-anchor", "middle").style("font-size", "33.3px").text("UTC Time");

// legend
var legendColors = [phaseColors.warm, phaseColors.sc, phaseColors.mix, phaseColors.ice];
var legendY = [74, 94, 116, 137];
legendNames.forEach(function(name, i) {
  svg.append("circle").attr("cx", 155).attr("cy", legendY[i]).attr("r", 5.8).attr("fill", legendColors[i]);
  svg.append("text").attr("x", 169).attr("y", legendY[i] + 7).style("font-size", "22.5px").text(name);
});
svg.append("path").attr("d", "M-5,0H5M0,-5V5").attr("transform", "translate(155,158)").attr("stroke", "#000").attr("stroke-width", 1.3).attr("fill", "none");
svg.append("text").attr("x", 169).attr("y", 165).style("font-size", "22.5px").text("CVI");

// colour bar
var barLevels = d3.range(22);
svg.append("g").selectAll("rect")
  .data(barLevels)
  .enter()
  .append("rect")
    .attr("x", d => 211 + d * 515 / 22)
    .attr("y", 879)
    .attr("width", 515 / 22)
    .attr("height", 32)
    .attr("fill", d => d >= 15 ? "black" : d3.interpolatePurples(d / 15))
    .attr("stroke", d => d >= 15 ? "black" : "#555");
svg.selectAll(".bLabel")
  .data(barLabels)
  .enter()
  .append("text")
    .attr("x", d => barX(d))
    .attr("y", 942)
    .attr("text-anchor", "middle")
    .style("font-size", "33px")
    .text(d => d);
var barUnit = svg.append("text").attr("x", 757).attr("y", 942).style("font-size", "32px").text("mg m");
barUnit.append("tspan").attr("dy", -12).style("font-size", "19px").text("-3");
</script>
</body>
</html>
